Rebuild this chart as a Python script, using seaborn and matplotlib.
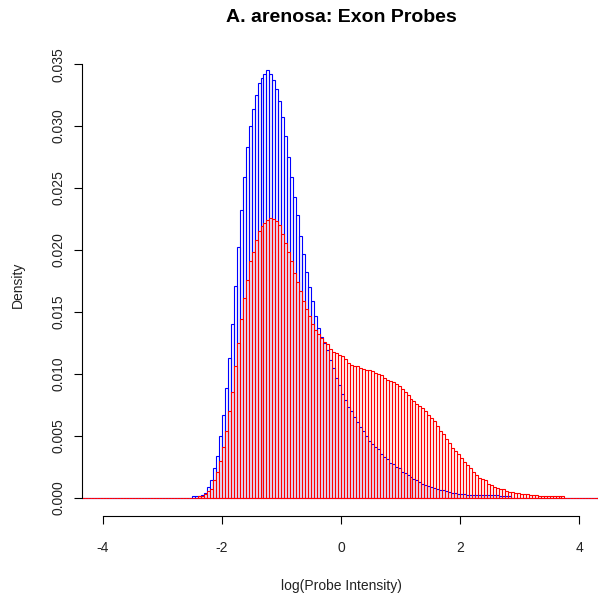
import numpy as np
import pandas as pd
import matplotlib
matplotlib.use("Agg")
import matplotlib.pyplot as plt
import seaborn as sns

# ---------------- data ----------------
TITLE = "A. arenosa: Exon Probes"
X_LABEL = "log(Probe Intensity)"
Y_LABEL = "Density"
BIN_WIDTH = 0.05
BIN_RANGE = (-4.35, 4.35)
X_TICKS = [-4, -2, 0, 2, 4]
Y_TICKS = [0.000, 0.005, 0.010, 0.015, 0.020, 0.025, 0.030, 0.035]

BLUE_START = -2.50
blue_heights = [
    0.00010, 0.00010, 0.00012, 0.00020, 0.00040, 0.00085, 0.00140, 0.00240, 0.00340, 0.00500,
    0.00670, 0.00885, 0.01130, 0.01400, 0.01710, 0.02020, 0.02320, 0.02590, 0.02830, 0.03000,
    0.03140, 0.03250, 0.03350, 0.03390, 0.03420, 0.03455, 0.03420, 0.03370, 0.03300, 0.03200,
    0.03070, 0.02920, 0.02750, 0.02590, 0.02430, 0.02280, 0.02110, 0.01970, 0.01820, 0.01700,
    0.01590, 0.01470, 0.01370, 0.01300, 0.01250, 0.01190, 0.01110, 0.01050, 0.00970, 0.00910,
    0.00840, 0.00790, 0.00730, 0.00700, 0.00650, 0.00610, 0.00570, 0.00540, 0.00500, 0.00460,
    0.00430, 0.00410, 0.00390, 0.00350, 0.00330, 0.00310, 0.00280, 0.00270, 0.00250, 0.00240,
    0.00210, 0.00200, 0.00180, 0.00170, 0.00150, 0.00140, 0.00130, 0.00110, 0.00100, 0.00095,
    0.00090, 0.00080, 0.00070, 0.00065, 0.00060, 0.00052, 0.00045, 0.00040, 0.00035, 0.00032,
    0.00030, 0.00028, 0.00025, 0.00024, 0.00023, 0.00022, 0.00020, 0.00018, 0.00018, 0.00018,
    0.00018, 0.00018, 0.00018, 0.00012, 0.00012, 0.00012, 0.00012,
]

RED_START = -2.50
red_heights = [
    0.00000, 0.00000, 0.00010, 0.00015, 0.00030, 0.00050, 0.00070, 0.00140, 0.00210, 0.00300,
    0.00410, 0.00540, 0.00700, 0.00850, 0.01060, 0.01250, 0.01440, 0.01610, 0.01760, 0.01910,
    0.01980, 0.02080, 0.02150, 0.02190, 0.02220, 0.02240, 0.02260, 0.02250, 0.02230, 0.02200,
    0.02130, 0.02060, 0.01980, 0.01910, 0.01810, 0.01740, 0.01670, 0.01590, 0.01520, 0.01470,
    0.01400, 0.01350, 0.01320, 0.01290, 0.01260, 0.01240, 0.01200, 0.01180, 0.01170, 0.01150,
    0.01140, 0.01120, 0.01090, 0.01070, 0.01060, 0.01060, 0.01050, 0.01040, 0.01030, 0.01030,
    0.01020, 0.01010, 0.01000, 0.00990, 0.00970, 0.00950, 0.00940, 0.00930, 0.00920, 0.00900,
    0.00880, 0.00850, 0.00830, 0.00800, 0.00780, 0.00760, 0.00740, 0.00720, 0.00700, 0.00670,
    0.00640, 0.00620, 0.00580, 0.00540, 0.00510, 0.00470, 0.00440, 0.00400, 0.00380, 0.00350,
    0.00320, 0.00290, 0.00260, 0.00240, 0.00210, 0.00180, 0.00160, 0.00150, 0.00140, 0.00110,
    0.00100, 0.00090, 0.00080, 0.00070, 0.00070, 0.00050, 0.00045, 0.00044, 0.00040, 0.00036,
    0.00030, 0.00028, 0.00026, 0.00020, 0.00020, 0.00020, 0.00010, 0.00010, 0.00010, 0.00010,
    0.00010, 0.00010, 0.00010, 0.00010, 0.00010,
]

BLUE = "#0000ff"
RED = "#ff0000"

# ---------------- build full bin tables ----------------
n_bins = int(round((BIN_RANGE[1] - BIN_RANGE[0]) / BIN_WIDTH))
centers = BIN_RANGE[0] + BIN_WIDTH * (np.arange(n_bins) + 0.5)


def full_bins(start, vals):
    h = np.zeros(n_bins)
    i0 = int(round((start - BIN_RANGE[0]) / BIN_WIDTH))
    h[i0:i0 + len(vals)] = vals
    return h


df = pd.DataFrame({
    "x": np.concatenate([centers, centers]),
    "w": np.concatenate([full_bins(BLUE_START, blue_heights),
                         full_bins(RED_START, red_heights)]),
    "series": ["blue"] * n_bins + ["red"] * n_bins,
})

# ---------------- plot ----------------
plt.rcParams["font.family"] = ["Liberation Sans", "DejaVu Sans"]
fig = plt.figure(figsize=(5.98, 5.98), dpi=100)
W = H = 598.0
left, right, top, bottom = 82, 600, 53, 516
ax = fig.add_axes([left / W, 1 - bottom / H, (right - left) / W, (bottom - top) / H])

for name, col in [("blue", BLUE), ("red", RED)]:
    sub = df[df["series"] == name]
    sns.histplot(data=sub, x="x", weights="w", binwidth=BIN_WIDTH,
                 binrange=BIN_RANGE, stat="count",
                 fill=False, element="bars", color=col,
                 linewidth=0.8, ax=ax)

ax.set_xlim(-4.345, -4.345 + (right - left) / 59.6)
ax.set_ylim(-0.00148, 0.0359)

for s in ["top", "right"]:
    ax.spines[s].set_visible(False)
ax.spines["left"].set_bounds(Y_TICKS[0], Y_TICKS[-1])
ax.spines["bottom"].set_bounds(X_TICKS[0], X_TICKS[-1])
for s in ["left", "bottom"]:
    ax.spines[s].set_linewidth(0.8)
    ax.spines[s].set_color("black")

ax.set_xticks(X_TICKS)
ax.set_xticklabels([str(t) for t in X_TICKS])
ax.set_yticks(Y_TICKS)
ax.set_yticklabels([f"{t:.3f}" for t in Y_TICKS], rotation=90, va="center")
ax.tick_params(axis="both", direction="out", length=6, width=0.8,
               labelsize=10, colors="black")
ax.tick_params(axis="x", pad=12)
ax.tick_params(axis="y", pad=6)
for lab in ax.get_xticklabels() + ax.get_yticklabels():
    lab.set_color("#222222")

ax.set_xlabel(X_LABEL, fontsize=10, labelpad=17, color="#222222")
ax.set_ylabel(Y_LABEL, fontsize=10, labelpad=19, color="#222222")
ax.set_title(TITLE, fontsize=14, fontweight="bold", pad=22)
ax.grid(False)
ax.set_facecolor("white")

fig.savefig("out.png", dpi=100, facecolor="white")
